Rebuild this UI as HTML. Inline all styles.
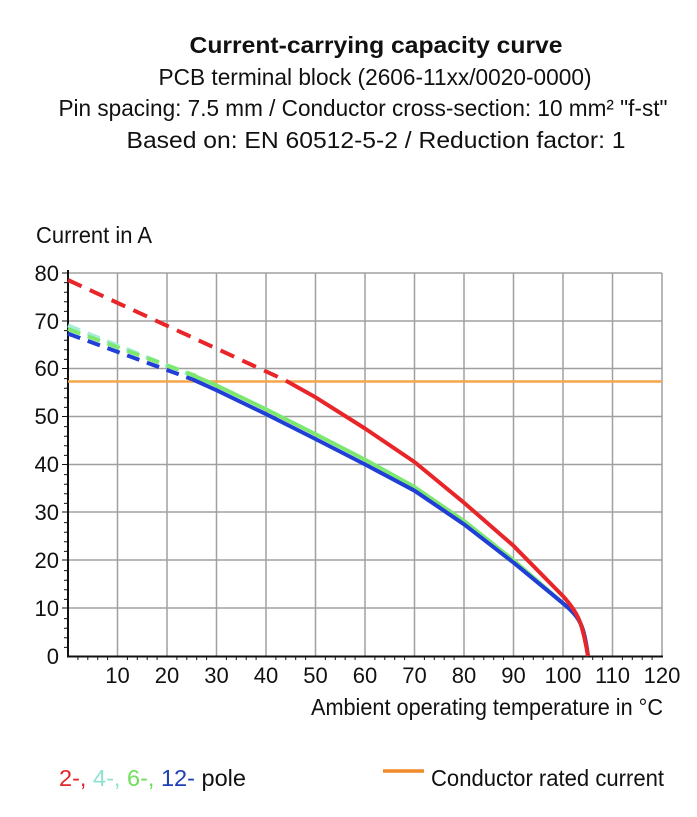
<!DOCTYPE html><html><head><style>body{margin:0;background:#fff}svg{display:block}text{font-family:"Liberation Sans",sans-serif;fill:#111}</style></head><body>
<svg width="697" height="817" xmlns="http://www.w3.org/2000/svg">
<g font-size="23" text-anchor="middle">
<text x="376" y="53" font-weight="bold" textLength="373" lengthAdjust="spacingAndGlyphs">Current-carrying capacity curve</text>
<text x="375" y="85" textLength="433" lengthAdjust="spacingAndGlyphs">PCB terminal block (2606-11xx/0020-0000)</text>
<text x="363" y="116" textLength="609" lengthAdjust="spacingAndGlyphs">Pin spacing: 7.5 mm / Conductor cross-section: 10 mm² "f-st"</text>
<text x="376" y="148" textLength="499" lengthAdjust="spacingAndGlyphs">Based on: EN 60512-5-2 / Reduction factor: 1</text>
</g>
<text x="36" y="243" font-size="23" textLength="116" lengthAdjust="spacingAndGlyphs">Current in A</text>
<text x="311" y="715" font-size="23" textLength="352" lengthAdjust="spacingAndGlyphs">Ambient operating temperature in °C</text>
<g stroke="#a0a0a0" stroke-width="1.5">
<line x1="117.5" y1="273" x2="117.5" y2="656"/><line x1="167" y1="273" x2="167" y2="656"/><line x1="216.5" y1="273" x2="216.5" y2="656"/><line x1="266" y1="273" x2="266" y2="656"/><line x1="315.5" y1="273" x2="315.5" y2="656"/><line x1="365" y1="273" x2="365" y2="656"/><line x1="414.5" y1="273" x2="414.5" y2="656"/><line x1="464" y1="273" x2="464" y2="656"/><line x1="513.5" y1="273" x2="513.5" y2="656"/><line x1="563" y1="273" x2="563" y2="656"/><line x1="612.5" y1="273" x2="612.5" y2="656"/><line x1="662" y1="273" x2="662" y2="656"/>
<line x1="68" y1="273" x2="662" y2="273"/><line x1="68" y1="321" x2="662" y2="321"/><line x1="68" y1="368.5" x2="662" y2="368.5"/><line x1="68" y1="416.5" x2="662" y2="416.5"/><line x1="68" y1="464.5" x2="662" y2="464.5"/><line x1="68" y1="512" x2="662" y2="512"/><line x1="68" y1="560" x2="662" y2="560"/><line x1="68" y1="608" x2="662" y2="608"/>
</g>
<g stroke="#111" stroke-width="2"><line x1="68" y1="270" x2="68" y2="657"/><line x1="67" y1="656.5" x2="663" y2="656.5"/></g>
<g stroke="#111" stroke-width="1">
<path d="M64 282.6h4M64 292.2h4M64 301.8h4M64 311.4h4M64 330.6h4M64 340.2h4M64 349.8h4M64 359.4h4M64 378.6h4M64 388.2h4M64 397.8h4M64 407.4h4M64 426.6h4M64 436.2h4M64 445.8h4M64 455.4h4M64 474.6h4M64 484.2h4M64 493.8h4M64 503.4h4M64 522.6h4M64 532.2h4M64 541.8h4M64 551.4h4M64 570.6h4M64 580.2h4M64 589.8h4M64 599.4h4M64 618.6h4M64 628.2h4M64 637.8h4M64 647.4h4M62 273h6M62 321h6M62 368.5h6M62 416.5h6M62 464.5h6M62 512h6M62 560h6M62 608h6"/>
<path d="M77.9 656v4M87.8 656v4M97.7 656v4M107.6 656v4M127.4 656v4M137.3 656v4M147.2 656v4M157.1 656v4M176.9 656v4M186.8 656v4M196.7 656v4M206.6 656v4M226.4 656v4M236.3 656v4M246.2 656v4M256.1 656v4M275.9 656v4M285.8 656v4M295.7 656v4M305.6 656v4M325.4 656v4M335.3 656v4M345.2 656v4M355.1 656v4M374.9 656v4M384.8 656v4M394.7 656v4M404.6 656v4M424.4 656v4M434.3 656v4M444.2 656v4M454.1 656v4M473.9 656v4M483.8 656v4M493.7 656v4M503.6 656v4M523.4 656v4M533.3 656v4M543.2 656v4M553.1 656v4M572.9 656v4M582.8 656v4M592.7 656v4M602.6 656v4M622.4 656v4M632.3 656v4M642.2 656v4M652.1 656v4"/>
</g>
<g font-size="22" text-anchor="end">
<text x="59" y="281">80</text><text x="59" y="329">70</text><text x="59" y="376">60</text><text x="59" y="424">50</text><text x="59" y="472">40</text><text x="59" y="520">30</text><text x="59" y="568">20</text><text x="59" y="616">10</text><text x="59" y="664">0</text>
</g>
<g font-size="22" text-anchor="middle">
<text x="117.5" y="683">10</text><text x="167" y="683">20</text><text x="216.5" y="683">30</text><text x="266" y="683">40</text><text x="315.5" y="683">50</text><text x="365" y="683">60</text><text x="414.5" y="683">70</text><text x="464" y="683">80</text><text x="513.5" y="683">90</text><text x="563" y="683">100</text><text x="612.5" y="683">110</text><text x="662" y="683">120</text>
</g>
<line x1="68" y1="381.5" x2="662" y2="381.5" stroke="#f5a54a" stroke-width="2.5"/>
<g fill="none" stroke-width="4" stroke-linecap="butt" stroke-linejoin="round">
<path d="M68 325.5 L196 377" stroke="#a6ecd8" stroke-dasharray="13 8"/>
<path d="M68 329 L196 376" stroke="#7de870" stroke-dasharray="13 8"/>
<path d="M191.8 374.8 L216.5 385.4 L266 409.3 L315.5 434.2 L365 459.6 L414.5 487 L464 521 L513.5 560.2 L563 603.3 C575 613 580 620 583 630 C586 640 587 648 588 656" stroke="#7de870"/>
<path d="M68 333.6 L191.8 379.1" stroke="#1f3fd6" stroke-dasharray="13 8"/>
<path d="M191.8 379.1 L216.5 390.2 L266 414.1 L315.5 439 L365 464.4 L414.5 490.7 L464 524.3 L513.5 562.6 L563 603.3 C575 613 580 620 583 630 C586 640 587 648 588 656" stroke="#1f3fd6"/>
<path d="M68 280 L285.8 380.6" stroke="#e8262a" stroke-dasharray="15 9"/>
<path d="M285.8 380.6 L315.5 397.3 L365 428.5 L414.5 462 L464 502.7 L513.5 545.8 L563 596.1 C572 606 577 614 580 622 C584 633 586 645 588 656" stroke="#e8262a"/>
</g>
<text x="59" y="786" font-size="23" textLength="187" lengthAdjust="spacingAndGlyphs"><tspan fill="#e3262a">2-, </tspan><tspan fill="#8fe0d0">4-, </tspan><tspan fill="#6fe05a">6-, </tspan><tspan fill="#1f3fb8">12- </tspan><tspan> pole</tspan></text>
<line x1="383" y1="771" x2="424" y2="771" stroke="#f08a2a" stroke-width="3.5"/>
<text x="431" y="786" font-size="23" textLength="233" lengthAdjust="spacingAndGlyphs">Conductor rated current</text>
</svg></body></html>
